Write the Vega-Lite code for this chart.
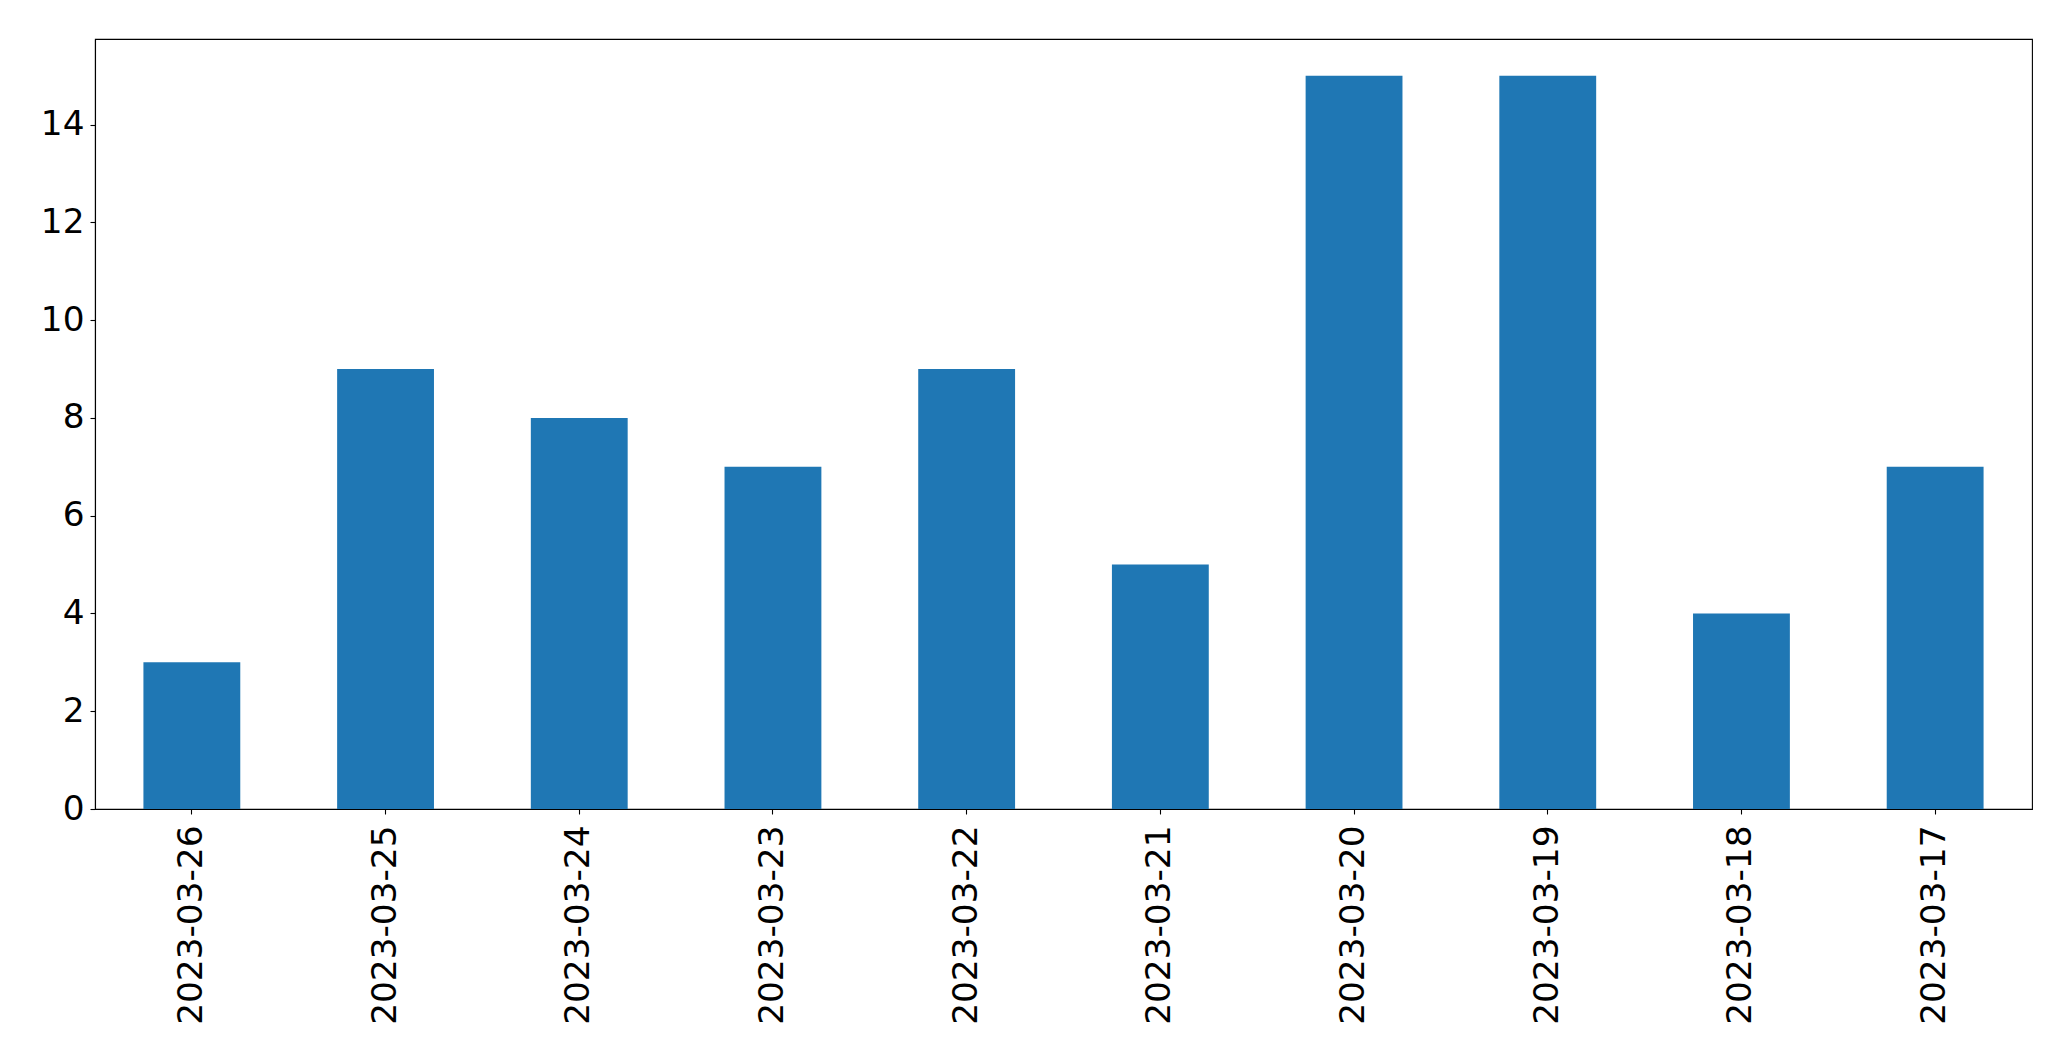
{
  "$schema": "https://vega.github.io/schema/vega-lite/v6.json",
  "width": 1937,
  "height": 770,
  "autosize": {"type": "none"},
  "padding": {"left": 95, "top": 39, "right": 39, "bottom": 252},
  "background": "white",
  "config": {
    "view": {"stroke": "black", "strokeWidth": 1.1},
    "font": "DejaVu Sans",
    "axis": {
      "domainColor": "black",
      "domainWidth": 1.1,
      "tickColor": "black",
      "tickWidth": 1.1,
      "tickSize": 5,
      "labelFont": "DejaVu Sans",
      "labelFontSize": 34.3,
      "labelColor": "black",
      "labelLimit": 0,
      "labelOverlap": false,
      "grid": false,
      "title": null
    }
  },
  "data": {
    "values": [
      {"date": "2023-03-26", "count": 3},
      {"date": "2023-03-25", "count": 9},
      {"date": "2023-03-24", "count": 8},
      {"date": "2023-03-23", "count": 7},
      {"date": "2023-03-22", "count": 9},
      {"date": "2023-03-21", "count": 5},
      {"date": "2023-03-20", "count": 15},
      {"date": "2023-03-19", "count": 15},
      {"date": "2023-03-18", "count": 4},
      {"date": "2023-03-17", "count": 7}
    ]
  },
  "mark": {"type": "bar", "color": "#1f77b4"},
  "encoding": {
    "x": {
      "field": "date",
      "type": "nominal",
      "sort": null,
      "scale": {"paddingInner": 0.5, "paddingOuter": 0.25},
      "axis": {"labelAngle": -90, "labelAlign": "right", "labelBaseline": "middle", "labelPadding": 11}
    },
    "y": {
      "field": "count",
      "type": "quantitative",
      "scale": {"domain": [0, 15.75], "nice": false},
      "axis": {"values": [0, 2, 4, 6, 8, 10, 12, 14], "labelPadding": 6}
    }
  }
}
